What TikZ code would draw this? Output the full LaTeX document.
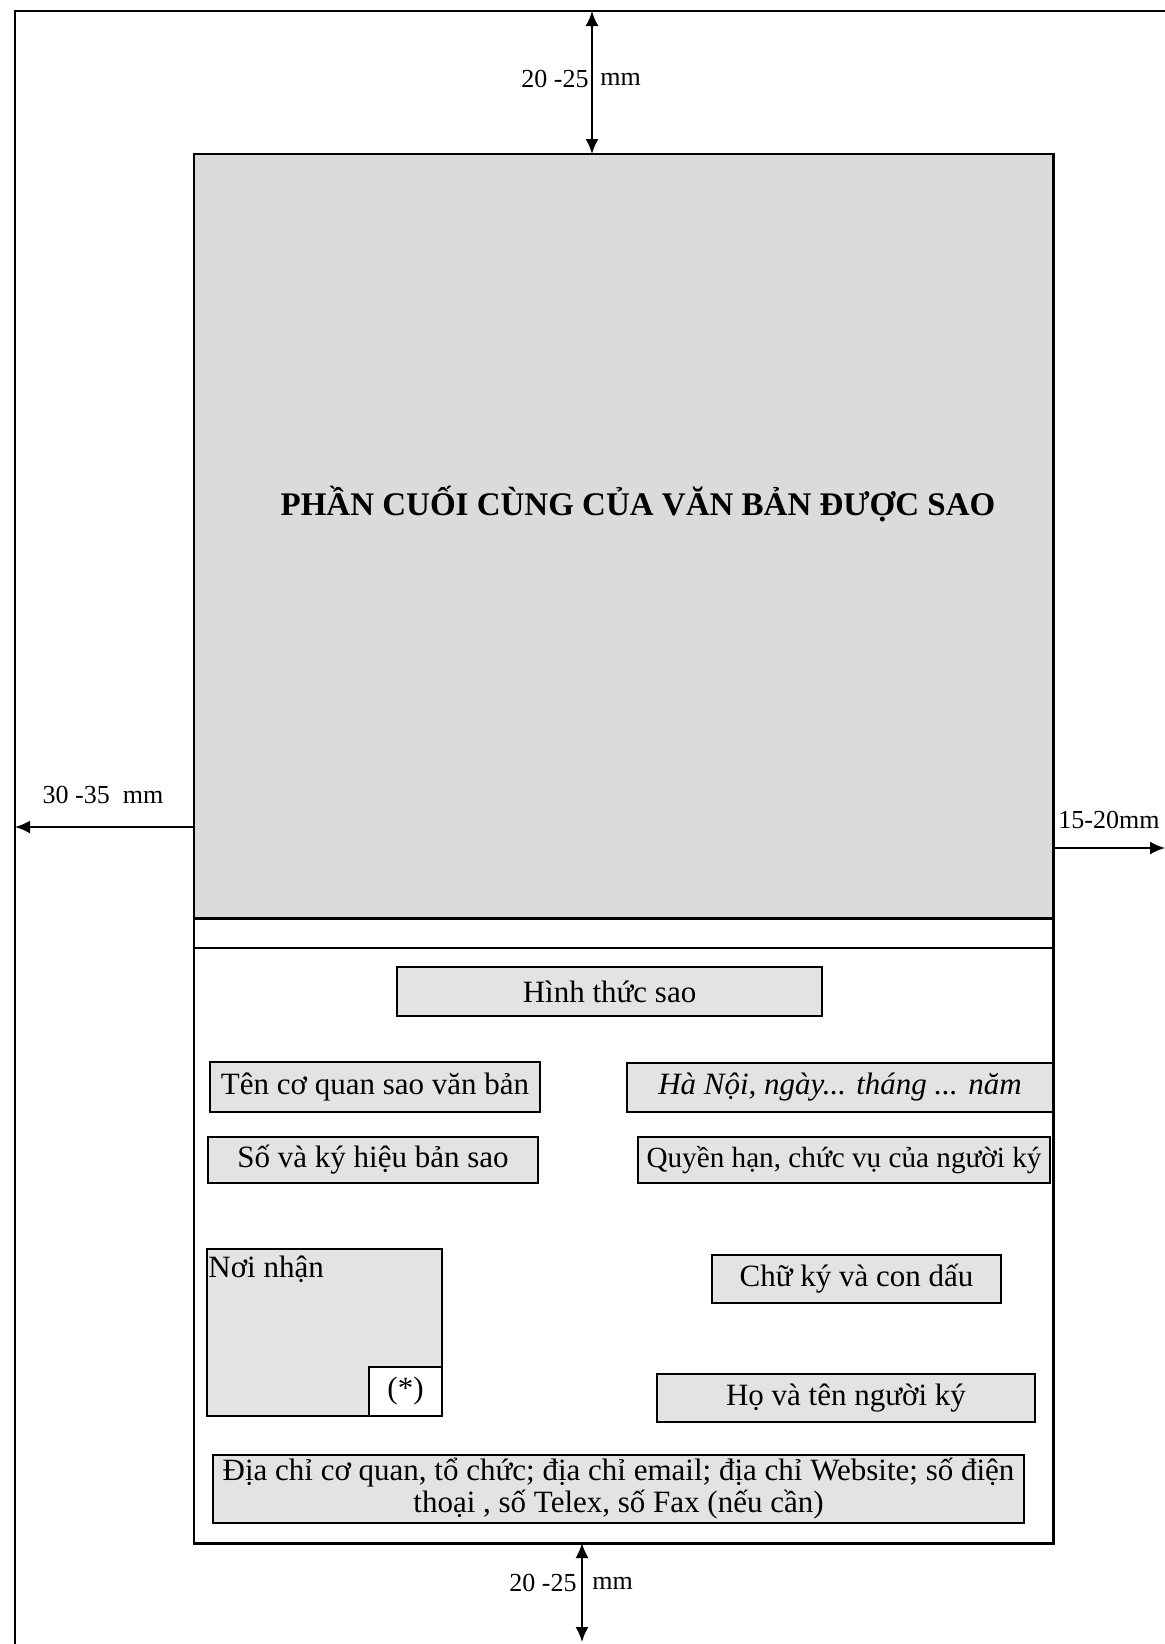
\documentclass[tikz,border=0pt]{standalone}
\usepackage{fontspec}
\setmainfont{Liberation Serif}
\usetikzlibrary{arrows.meta,fit}
\tikzset{
  frameline/.style={line width=1.1pt},
  gbox/.style={draw,line width=1.1pt,fill=gray!22,inner sep=0pt},
  wbox/.style={draw,line width=1.1pt,fill=white,inner sep=0pt},
  txt/.style={inner sep=0pt,font=\fontsize{15.5}{18}\selectfont},
  dimline/.style={line width=1pt,{Latex[length=7.5pt,width=6.5pt]}-{Latex[length=7.5pt,width=6.5pt]}},
  oneend/.style={line width=1pt,-{Latex[length=7.5pt,width=6.5pt]}},
  lbl/.style={inner sep=0pt,font=\fontsize{13}{15}\selectfont}
}
\begin{document}
\begin{tikzpicture}[x=0.5pt,y=-0.5pt]
\useasboundingbox (0,0) rectangle (1165,1644);
% page outer frame
\coordinate (pgtl) at (15,11);
\coordinate (pgtr) at (1165,11);
\coordinate (pgbl) at (15,1644);
\draw[frameline] (pgtr) -- (pgtl) -- (pgbl);
% text area
\node[draw=none,fill=gray!28,inner sep=0pt,fit={(194,154)(1053,918)}] (upper) {};
\node[inner sep=0pt,fit={(194,948)(1053,1543)}] (lower) {};
\draw[frameline] (upper.north west) -- (upper.north east) -- (lower.south east) -- (lower.south west) -- cycle;
\draw[frameline] (upper.south west) -- (upper.south east);
\draw[frameline] (lower.north west) -- (lower.north east);
\node[inner sep=0pt,font=\fontsize{16.5}{19}\selectfont\bfseries] (title) at (638,504) {PHẦN CUỐI CÙNG CỦA VĂN BẢN ĐƯỢC SAO};
% boxes
\node[gbox,fit={(397,967)(822,1016)}] (hinh) {};
\node[txt] (hinhtxt) at (hinh) {Hình thức sao};
\node[gbox,fit={(210,1062)(540,1112)}] (tencq) {};
\node[txt] (tencqtxt) at (tencq) {Tên cơ quan sao văn bản};
\node[gbox,fit={(627,1063)(1053,1112)}] (hanoi) {};
\node[txt,font=\fontsize{15.5}{18}\selectfont\itshape] (hanoitxt) at (hanoi) {Hà Nội, ngày... tháng ... năm};
\node[gbox,fit={(208,1137)(538,1183)}] (sokh) {};
\node[txt] (sokhtxt) at (sokh) {Số và ký hiệu bản sao};
\node[gbox,fit={(638,1137)(1050,1183)}] (quyen) {};
\node[txt,font=\fontsize{14.6}{18}\selectfont] (quyentxt) at (quyen) {Quyền hạn, chức vụ của người ký};
\node[gbox,fit={(207,1249)(442,1416)}] (noinhan) {};
\node[txt,anchor=north west] (noinhanlbl) at (208,1256) {Nơi nhận};
\node[wbox,fit={(369,1367)(442,1416)}] (star) {};
\node[txt] (startxt) at (star) {(*)};
\node[gbox,fit={(712,1255)(1001,1303)}] (chuky) {};
\node[txt] (chukytxt) at (chuky) {Chữ ký và con dấu};
\node[gbox,fit={(657,1374)(1035,1422)}] (hoten) {};
\node[txt] (hotentxt) at (hoten) {Họ và tên người ký};
\node[gbox,fit={(213,1455)(1024,1523)}] (diachi) {};
\node[txt,align=center,font=\fontsize{15.5}{16}\selectfont] (diachitxt) at (diachi) {Địa chỉ cơ quan, tổ chức; địa chỉ email; địa chỉ Website; số điện\\thoại , số Telex, số Fax (nếu cần)};
% dimension arrows
\coordinate (topa) at (592,11);
\coordinate (topb) at (592,154);
\draw[dimline] (topa) -- (topb);
\node[lbl,anchor=east] (toplbl) at (589,79) {20 -25};
\node[lbl,anchor=west] (topmm) at (600,79) {mm};
\coordinate (bota) at (582,1543);
\coordinate (botb) at (582,1642);
\draw[dimline] (bota) -- (botb);
\node[lbl,anchor=east] (botlbl) at (577,1583) {20 -25};
\node[lbl,anchor=west] (botmm) at (592,1583) {mm};
\coordinate (lefta) at (193,827);
\coordinate (leftb) at (15,827);
\draw[oneend] (lefta) -- (leftb);
\node[lbl] (leftlbl) at (103,795) {30 -35~~mm};
\coordinate (righta) at (1053,848);
\coordinate (rightb) at (1165,848);
\draw[oneend] (righta) -- (rightb);
\node[lbl] (rightlbl) at (1109,820) {15-20mm};
\end{tikzpicture}
\end{document}
